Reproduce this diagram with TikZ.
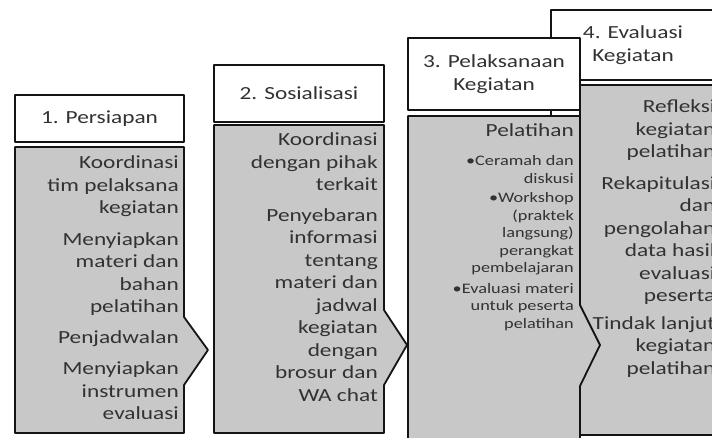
\documentclass[tikz,border=0pt]{standalone}
\usepackage{fontspec}
\setmainfont{Carlito}[FakeStretch=1.26]
\definecolor{boxfill}{RGB}{200,200,200}
\definecolor{txt}{RGB}{50,50,50}
\definecolor{edgecol}{RGB}{20,20,20}
\tikzset{
  edge/.style={draw=edgecol, line width=1.8pt, line join=round},
  titlebox/.style={edge, fill=white, inner sep=0pt, text=txt, align=center,
    font=\fontsize{18.5}{23}\selectfont},
  bodybox/.style={edge, fill=boxfill},
  bigtxt/.style={font=\fontsize{18.5}{22.5}\selectfont, text=txt, inner sep=0pt, align=right, anchor=north east},
  smalltxt/.style={font=\fontsize{14.5}{17.5}\selectfont, text=txt, inner sep=0pt, align=right, anchor=north east}
}
\begin{document}
\begin{tikzpicture}[x=1pt,y=-1pt]
\useasboundingbox (0,0) rectangle (712,437);
\clip (0,0) rectangle (712,437);
% stage 4 (behind)
\draw[edge] (551,80) -- (551,117);
\node[titlebox, minimum width=164pt, minimum height=70pt] (t4) at (633,45) {4. Evaluasi\\Kegiatan};
\draw[bodybox] (580,85) rectangle (722,435);
\node[bigtxt] (b4) at (715.5,99.5) {Refleksi\\kegiatan\\pelatihan\\[9pt]Rekapitulasi\\dan\\pengolahan\\data hasil\\evaluasi\\peserta\\[5pt]Tindak lanjut\\kegiatan\\pelatihan};
% stage 3
\node[titlebox, minimum width=172pt, minimum height=72pt] (t3) at (494,74) {3. Pelaksanaan\\Kegiatan};
\draw[bodybox] (408,450) -- (408,116) -- (580,116) -- (580,305) -- (600,345) -- (580,386) -- (580,450);
\node[bigtxt] (b3h) at (574,123.5) {Pelatihan};
\node[smalltxt] (b3l) at (574,155.5) {\textbullet Ceramah dan\\diskusi\\[2pt]\textbullet Workshop\\(praktek\\langsung)\\perangkat\\pembelajaran\\[3pt]\textbullet Evaluasi materi\\untuk peserta\\pelatihan};
% stage 2
\node[titlebox, minimum width=170pt, minimum height=57pt] (t2) at (299,93.5) {2. Sosialisasi};
\draw[bodybox] (214,433) -- (214,125) -- (384,125) -- (384,310) -- (407,345) -- (384,385) -- (384,433) -- cycle;
\node[bigtxt] (b2) at (378,132.5) {Koordinasi\\dengan pihak\\terkait\\[8pt]Penyebaran\\informasi\\tentang\\materi dan\\jadwal\\kegiatan\\dengan\\brosur dan\\WA chat};
% stage 1
\node[titlebox, minimum width=169pt, minimum height=47pt] (t1) at (99.5,118.5) {1. Persiapan};
\draw[bodybox] (15,433) -- (15,147) -- (184,147) -- (184,317) -- (208,350) -- (184,385) -- (184,433) -- cycle;
\node[bigtxt] (b1) at (179,155.5) {Koordinasi\\tim pelaksana\\kegiatan\\[9pt]Menyiapkan\\materi dan\\bahan\\pelatihan\\[8pt]Penjadwalan\\[9pt]Menyiapkan\\instrumen\\evaluasi};
\end{tikzpicture}
\end{document}
